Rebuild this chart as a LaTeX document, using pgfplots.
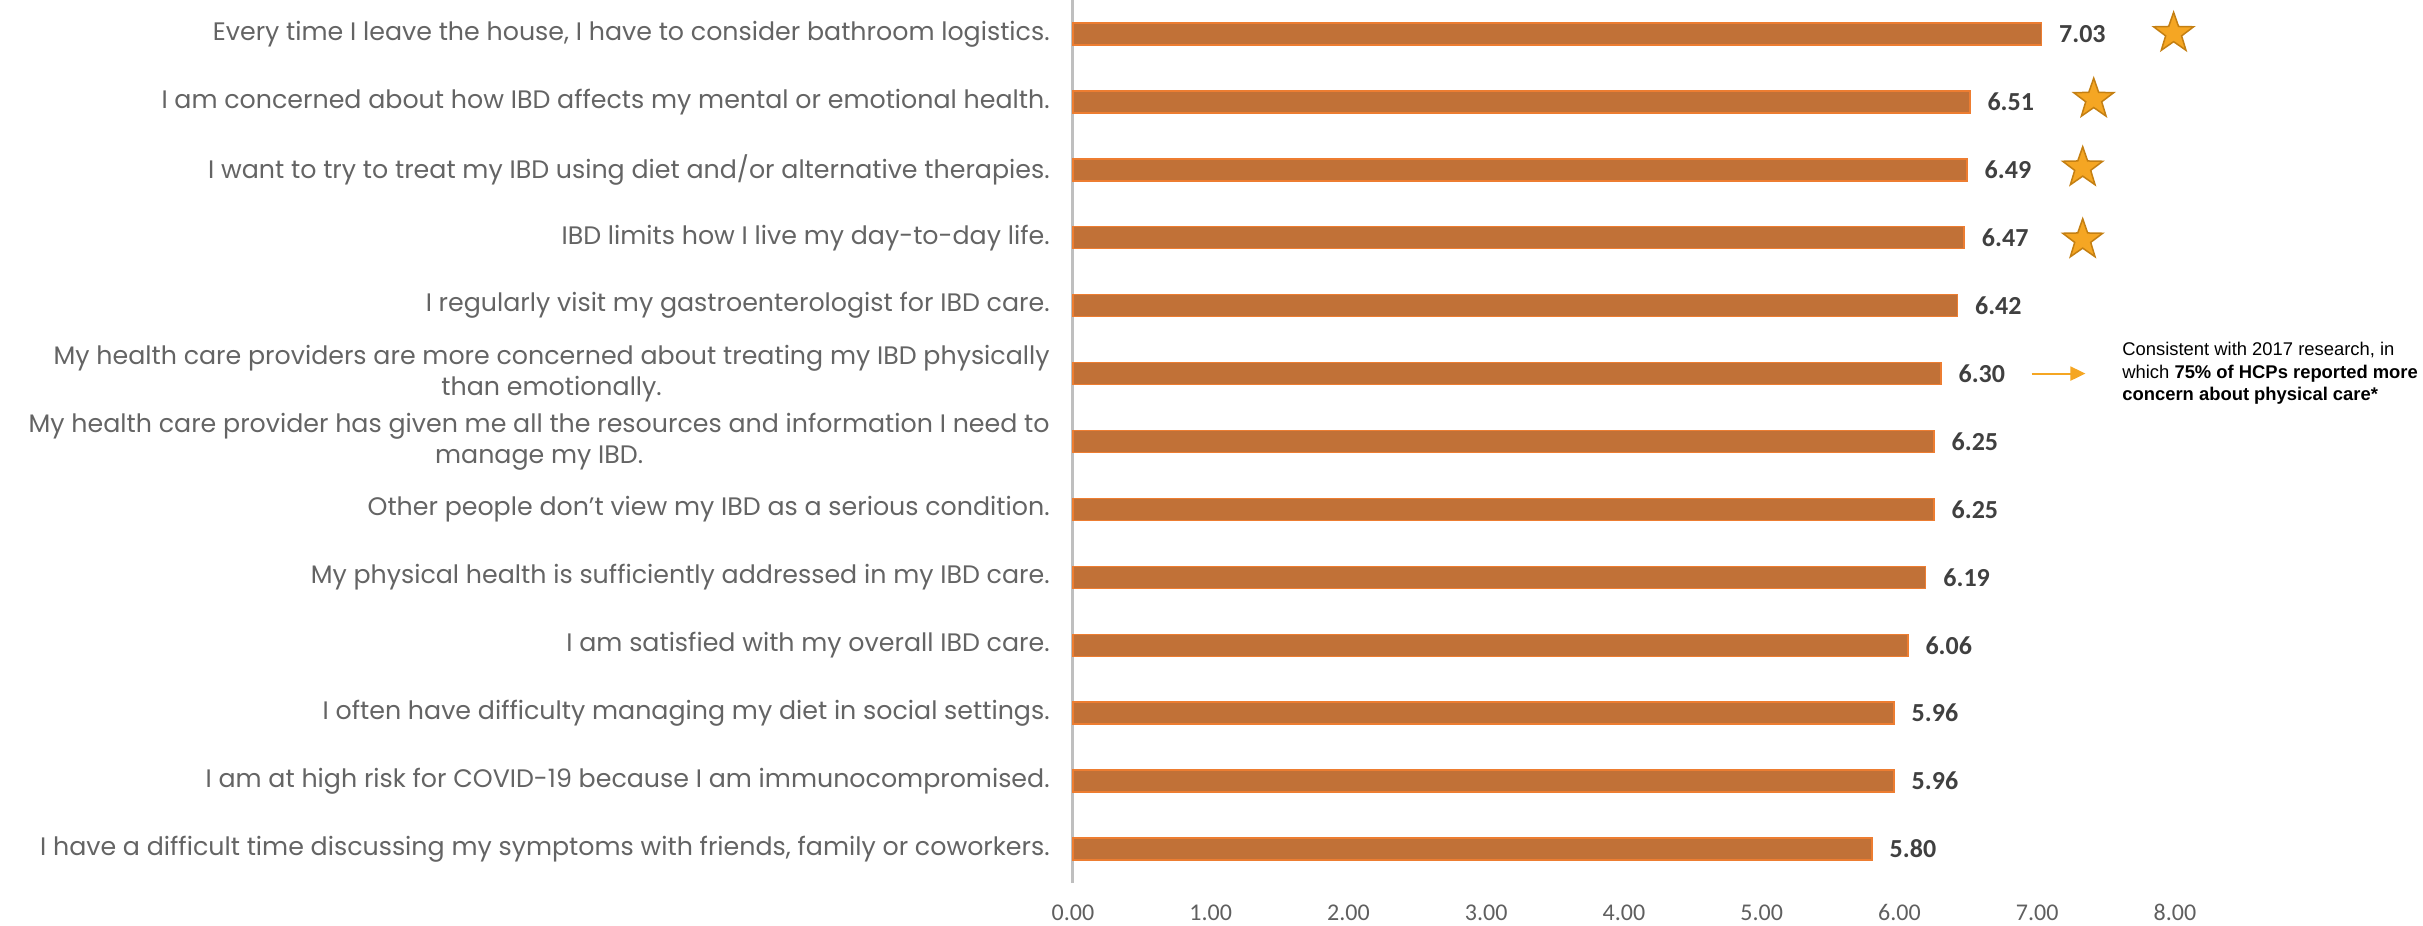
\documentclass[border=0pt]{standalone}
\usepackage{fontspec}
\usepackage{pgfplots}
\pgfplotsset{compat=1.18}
\usetikzlibrary{arrows.meta}
\newfontfamily\labelfont{Poppins}
\newfontfamily\valfont{Carlito}
\newfontfamily\notefont{Liberation Sans}
\definecolor{barfill}{RGB}{193,113,55}
\definecolor{baredge}{RGB}{237,125,49}
\definecolor{labgray}{RGB}{100,100,100}
\definecolor{tickgray}{RGB}{95,95,95}
\definecolor{valgray}{RGB}{64,64,64}
\definecolor{axgray}{RGB}{191,191,191}
\definecolor{stargold}{RGB}{245,166,35}
\definecolor{staredge}{RGB}{196,127,18}
\definecolor{arroworange}{RGB}{245,166,35}
\pgfdeclareplotmark{fivestar}{%
  \pgfpathmoveto{\pgfpointpolar{90}{\pgfplotmarksize}}%
  \pgfpathlineto{\pgfpointpolar{126}{0.4\pgfplotmarksize}}%
  \pgfpathlineto{\pgfpointpolar{162}{\pgfplotmarksize}}%
  \pgfpathlineto{\pgfpointpolar{198}{0.4\pgfplotmarksize}}%
  \pgfpathlineto{\pgfpointpolar{234}{\pgfplotmarksize}}%
  \pgfpathlineto{\pgfpointpolar{270}{0.4\pgfplotmarksize}}%
  \pgfpathlineto{\pgfpointpolar{306}{\pgfplotmarksize}}%
  \pgfpathlineto{\pgfpointpolar{342}{0.4\pgfplotmarksize}}%
  \pgfpathlineto{\pgfpointpolar{18}{\pgfplotmarksize}}%
  \pgfpathlineto{\pgfpointpolar{54}{0.4\pgfplotmarksize}}%
  \pgfpathclose
  \pgfusepathqfillstroke
}
\begin{document}
\begin{tikzpicture}
\begin{axis}[
  name=ax,
  scale only axis, width=551pt, height=441.5pt,
  xmin=0, xmax=8, ymin=-0.5, ymax=12.5,
  bar width=11pt,
  axis lines*=left,
  x axis line style={draw=none},
  y axis line style={draw=axgray, line width=1.5pt},
  major tick length=0pt,
  /pgf/number format/assume math mode=true,
  xtick={0,1,...,8},
  xticklabel style={/pgf/number format/.cd, fixed, fixed zerofill, precision=2, /tikz/.cd,
    font=\valfont\fontsize{12}{12}\selectfont, text=tickgray, anchor=base, inner sep=0pt, yshift=-18.75pt},
  ytick={0,1,...,12},
  yticklabels={
    {I have a difficult time discussing my symptoms with friends, family or coworkers.},
    {I am at high risk for COVID-19 because I am immunocompromised.},
    {I often have difficulty managing my diet in social settings.},
    {I am satisfied with my overall IBD care.},
    {My physical health is sufficiently addressed in my IBD care.},
    {Other people don’t view my IBD as a serious condition.},
    {My health care provider has given me all the resources and information I need to\\manage my IBD.},
    {My health care providers are more concerned about treating my IBD physically\\than emotionally.},
    {I regularly visit my gastroenterologist for IBD care.},
    {IBD limits how I live my day-to-day life.},
    {I want to try to treat my IBD using diet and/or alternative therapies.},
    {I am concerned about how IBD affects my mental or emotional health.},
    {Every time I leave the house, I have to consider bathroom logistics.}
  },
  yticklabel style={font=\labelfont\fontsize{12.65}{15.5}\selectfont, text=labgray, align=center, inner sep=0pt, xshift=-11.5pt},
  clip=false,
]
\addplot[xbar, bar shift=0pt, fill=barfill, draw=baredge, line width=0.75pt,
  point meta=x,
  nodes near coords={\pgfmathprintnumber[fixed,fixed zerofill,precision=2,assume math mode=true]{\pgfplotspointmeta}},
  nodes near coords style={font=\valfont\bfseries\fontsize{13}{13}\selectfont, text=valgray, anchor=west, inner sep=0pt, xshift=8.5pt}]
  coordinates {(5.80,0) (5.96,1) (5.96,2) (6.06,3) (6.19,4) (6.25,5) (6.25,6) (6.30,7) (6.42,8) (6.47,9) (6.49,10) (6.51,11) (7.03,12)};
\addplot[only marks, mark=fivestar, mark size=10.5pt, mark options={fill=stargold, draw=staredge, line width=0.75pt}]
  coordinates {(7.99,12.01) (7.41,11.04) (7.33,10.03) (7.33,8.97)};
\addplot[draw=arroworange, line width=1pt, -{Triangle[length=7.5pt,width=7pt]}]
  coordinates {(6.96,7) (7.35,7)};
\node[anchor=west, inner sep=0pt, align=left, font=\notefont\fontsize{9.2}{11.25}\selectfont]
  at (axis cs:7.615,7) {Consistent with 2017 research, in\\which \textbf{75\% of HCPs reported more}\\\textbf{concern about physical care*}};
\end{axis}
\pgfresetboundingbox
\path ([xshift=-536.5pt,yshift=-21pt]ax.south west) rectangle ([xshift=124pt]ax.north east);
\end{tikzpicture}
\end{document}
